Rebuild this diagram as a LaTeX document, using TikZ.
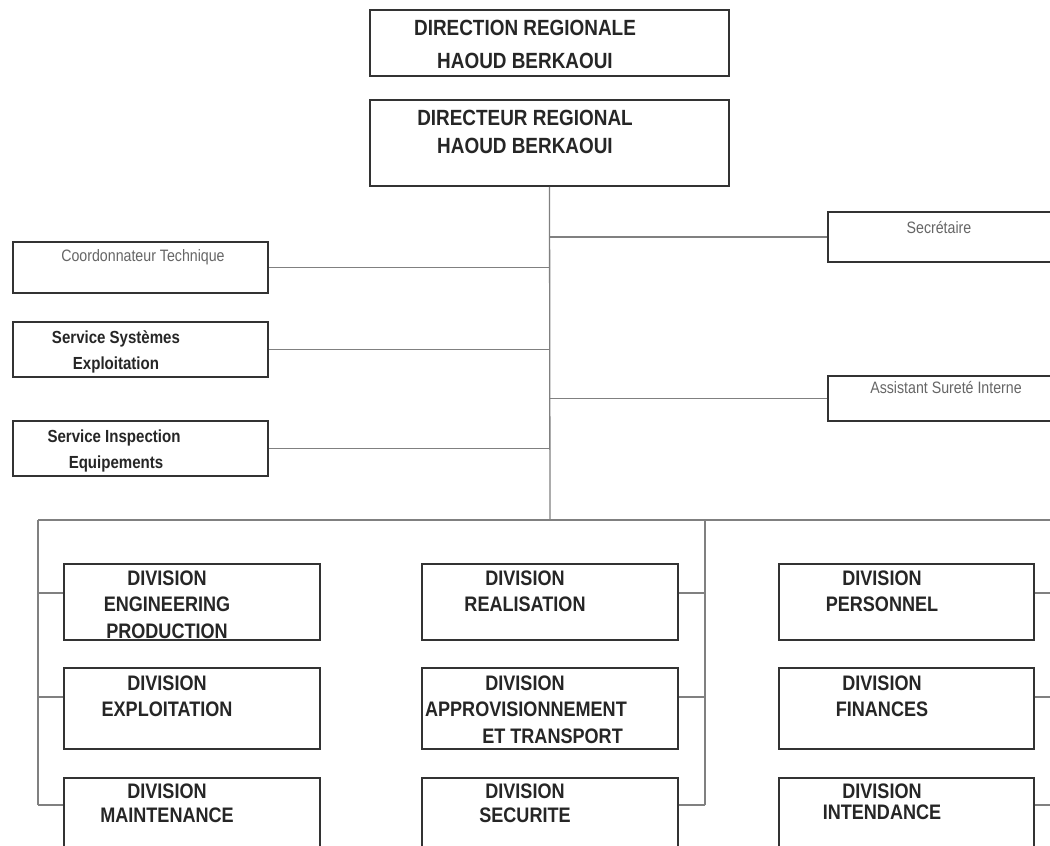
\documentclass[tikz,border=0pt]{standalone}
\usepackage{fontspec}
\newfontfamily\cf[FakeStretch=0.86]{Liberation Sans}
\begin{document}
\begin{tikzpicture}[x=1pt,y=-1pt,
  box/.style={draw=black!80, line width=1.6pt, inner sep=0pt, fill=white},
  conn/.style={draw=black!50, line width=1.3pt},
  big/.style={font=\cf\bfseries\fontsize{22}{26}\selectfont, inner sep=0pt, anchor=base, text=black!85},
  div/.style={font=\cf\bfseries\fontsize{21}{26}\selectfont, inner sep=0pt, anchor=base, text=black!85},
  sbold/.style={font=\cf\bfseries\fontsize{17.5}{21}\selectfont, inner sep=0pt, anchor=base, text=black!85},
  sgray/.style={font=\cf\fontsize{16.5}{20}\selectfont, inner sep=0pt, anchor=base, text=black!60}]
\clip (0,0) rectangle (1050,846);
\fill[white] (0,0) rectangle (1050,846);

% boxes
\node[box, minimum width=359pt, minimum height=66pt] (dr) at (549.5,43) {};
\node[box, minimum width=359pt, minimum height=86pt] (dir) at (549.5,143) {};
\node[box, minimum width=255pt, minimum height=51pt] (coord) at (140.5,267.5) {};
\node[box, minimum width=255pt, minimum height=55pt] (sse) at (140.5,349.5) {};
\node[box, minimum width=255pt, minimum height=55pt] (sie) at (140.5,448.5) {};
\node[box, minimum width=242pt, minimum height=50pt] (sec) at (949,237) {};
\node[box, minimum width=242pt, minimum height=45pt] (asi) at (949,398.5) {};

\node[box, minimum width=256pt, minimum height=76pt] (d11) at (192,602) {};
\node[box, minimum width=256pt, minimum height=81pt] (d12) at (192,708.5) {};
\node[box, minimum width=256pt, minimum height=92pt] (d13) at (192,824) {};
\node[box, minimum width=256pt, minimum height=76pt] (d21) at (550,602) {};
\node[box, minimum width=256pt, minimum height=81pt] (d22) at (550,708.5) {};
\node[box, minimum width=256pt, minimum height=92pt] (d23) at (550,824) {};
\node[box, minimum width=255pt, minimum height=76pt] (d31) at (906.5,602) {};
\node[box, minimum width=255pt, minimum height=81pt] (d32) at (906.5,708.5) {};
\node[box, minimum width=255pt, minimum height=92pt] (d33) at (906.5,824) {};

% coordinates
\coordinate (jt) at (550,520);
\coordinate (bl) at (38,520);
\coordinate (br) at (1060,520);
\coordinate (l1) at (38,593);
\coordinate (l2) at (38,697);
\coordinate (l3) at (38,805);
\coordinate (mtop) at (705,520);
\coordinate (m1) at (705,593);
\coordinate (m2) at (705,697);
\coordinate (m3) at (705,805);
\coordinate (r1) at (1060,593);
\coordinate (r2) at (1060,697);
\coordinate (r3) at (1060,805);

% connectors
\draw[conn] (dir.south) -- (jt);
\draw[conn] (coord.east) -- (coord.east -| jt);
\draw[conn] (sse.east) -- (sse.east -| jt);
\draw[conn] (sie.east) -- (sie.east -| jt);
\draw[conn] (sec.west) -- (sec.west -| jt);
\draw[conn] (asi.west) -- (asi.west -| jt);
\draw[conn] (bl) -- (br);
\draw[conn] (bl) -- (l3);
\draw[conn] (l1) -- (l1 -| d11.west);
\draw[conn] (l2) -- (l2 -| d12.west);
\draw[conn] (l3) -- (l3 -| d13.west);
\draw[conn] (mtop) -- (m3);
\draw[conn] (m1) -- (m1 -| d21.east);
\draw[conn] (m2) -- (m2 -| d22.east);
\draw[conn] (m3) -- (m3 -| d23.east);
\draw[conn] (r1) -- (r1 -| d31.east);
\draw[conn] (r2) -- (r2 -| d32.east);
\draw[conn] (r3) -- (r3 -| d33.east);

% texts
\node[big] (t1a) at (525,35) {DIRECTION REGIONALE};
\node[big] (t1b) at (525,68) {HAOUD BERKAOUI};
\node[big] (t2a) at (525,125) {DIRECTEUR REGIONAL};
\node[big] (t2b) at (525,153) {HAOUD BERKAOUI};

\node[sgray] (tc) at (143,261) {Coordonnateur Technique};
\node[sbold] (tsa) at (116,343) {Service Systèmes};
\node[sbold] (tsb) at (116,369) {Exploitation};
\node[sbold] (tia) at (114,442) {Service Inspection};
\node[sbold] (tib) at (116,468) {Equipements};
\node[sgray] (tsec) at (939,233) {Secrétaire};
\node[sgray] (tasi) at (946,393) {Assistant Sureté Interne};

\node[div] (a1) at (167,585.5) {DIVISION};
\node[div] (a2) at (167,611.5) {ENGINEERING};
\node[div] (a3) at (167,638.5) {PRODUCTION};
\node[div] (b1) at (167,690.5) {DIVISION};
\node[div] (b2) at (167,716.5) {EXPLOITATION};
\node[div] (c1) at (167,798.5) {DIVISION};
\node[div] (c2) at (167,822.5) {MAINTENANCE};

\node[div] (e1) at (525,585.5) {DIVISION};
\node[div] (e2) at (525,611.5) {REALISATION};
\node[div] (f1) at (525,690.5) {DIVISION};
\node[div, anchor=base east] (f2) at (627,716.5) {APPROVISIONNEMENT};
\node[div, anchor=base east] (f3) at (623,743.5) {ET TRANSPORT};
\node[div] (g1) at (525,798.5) {DIVISION};
\node[div] (g2) at (525,822.5) {SECURITE};

\node[div] (h1) at (882,585.5) {DIVISION};
\node[div] (h2) at (882,611.5) {PERSONNEL};
\node[div] (i1) at (882,690.5) {DIVISION};
\node[div] (i2) at (882,716.5) {FINANCES};
\node[div] (j1) at (882,798.5) {DIVISION};
\node[div] (j2) at (882,819.5) {INTENDANCE};
\end{tikzpicture}
\end{document}
